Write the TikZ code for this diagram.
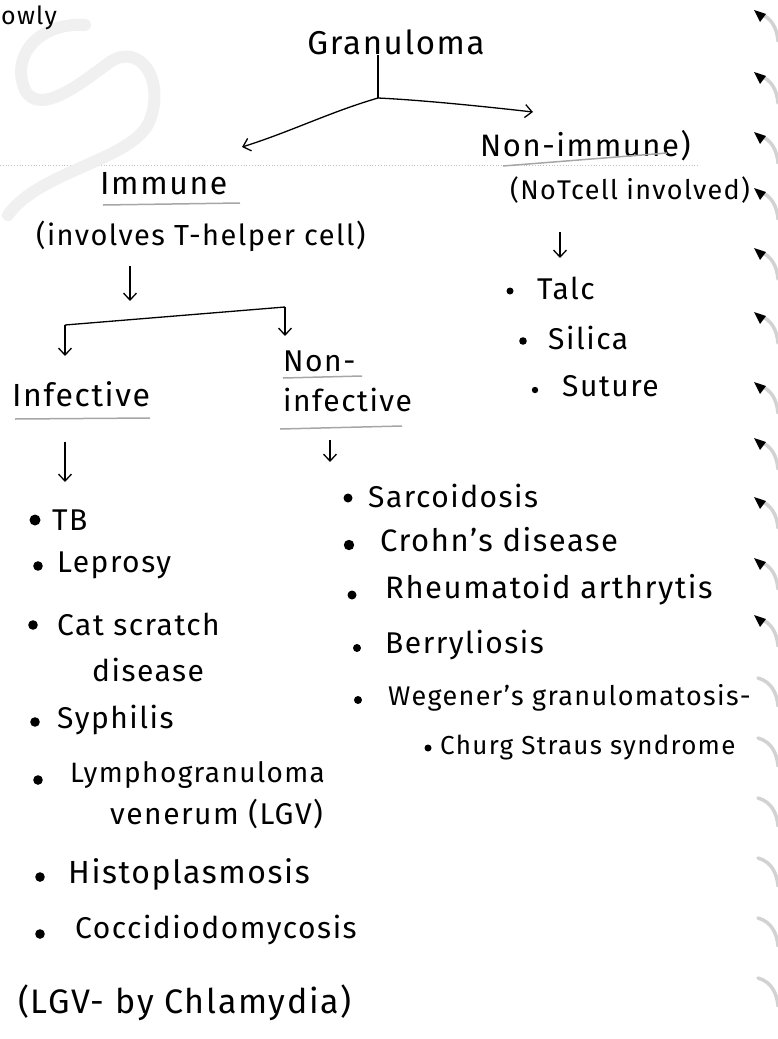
\documentclass[tikz,border=0pt]{standalone}
\usepackage{fontspec}
\setmainfont{Fira Sans}[LetterSpace=5]
\usetikzlibrary{arrows.meta}
\tikzset{
  hw/.style={inner sep=0pt, font=\fontsize{30}{32}\selectfont, text=black},
  hwl/.style={hw, anchor=west},
  arr/.style={line width=1.3pt, -{Straight Barb[length=7pt,width=13pt,line width=1.3pt]}},
  ln/.style={line width=1.3pt},
  uline/.style={gray!70, line width=1.5pt},
  ring/.style={gray!35, line width=3.5pt, line cap=round},
  bul/.style={fill=black},
}
\begin{document}
\begin{tikzpicture}[x=1pt,y=-1pt]
\useasboundingbox (0,0) rectangle (778,1039);
% faint ruled line and watermark
\draw[gray!50, dotted, line width=0.8pt] (0,165) -- (700,165);
\draw[gray!12, line width=12pt, line cap=round]
  (85,25) .. controls (40,22) and (10,55) .. (25,90)
  .. controls (40,118) and (85,80) .. (110,62)
  .. controls (140,42) and (165,80) .. (150,120)
  .. controls (135,160) and (40,170) .. (8,215);
% binder rings on the right edge
\foreach \y/\k in {25/1,87/1,147/1,203/1,263/1,327/1,397/1,453/1,512/1,573/1,630/1,690/0,750/0,810/0,870/0,930/0,990/0}{
  \draw[ring] (758,\y-12) .. controls (772,\y-8) and (777,\y+4) .. (778,\y+16);
  \ifnum\k=1 \fill (754,\y-15) -- (766,\y-11) -- (760,\y-3) -- cycle; \fi
}
% top-left fragment
\node[hwl, font=\fontsize{25}{27}\selectfont] (frag) at (1,18) {owly};
% root
\node[hw, font=\fontsize{33}{35}\selectfont] (gran) at (396,42) {Granuloma};
\coordinate (j) at (378,98);
\draw[ln] (gran.south -| j) -- (j);
% Immune branch
\node[hwl, font=\fontsize{32}{34}\selectfont] (imm) at (100,184) {Immune};
\node[hwl, font=\fontsize{29}{31}\selectfont] (inv) at (36,236) {(involves T-helper cell)};
\coordinate (immtip) at (242,147);
\draw[arr] (j) .. controls (330,112) and (290,132) .. (immtip);
\draw[uline] (103,205) -- (240,203);
% Non-immune branch
\node[hwl, font=\fontsize{31}{33}\selectfont] (nonimm) at (480,146) {Non-immune)};
\node[hwl, font=\fontsize{27}{29}\selectfont] (notcell) at (510,190) {(NoTcell involved)};
\coordinate (nitip) at (533,112);
\draw[arr] (j) .. controls (420,100) and (480,106) .. (nitip);
\draw[uline] (503,166) -- (667,153);
\coordinate (na1) at (560,232);
\coordinate (na2) at (560,258);
\draw[arr] (na1) -- (na2);
\fill[bul] (510,291) circle[radius=3.5pt];
\node[hwl] (talc) at (537,288) {Talc};
\fill[bul] (523,341) circle[radius=3.8pt];
\node[hwl] (silica) at (548,338) {Silica};
\fill[bul] (535,390) circle[radius=3.2pt];
\node[hwl] (suture) at (562,386) {Suture};
% split of immune
\coordinate (ia1) at (130,266);
\coordinate (ia2) at (130,301);
\draw[arr] (ia1) -- (ia2);
\coordinate (bl) at (65,325);
\coordinate (br) at (285,307);
\draw[ln] (bl) -- (br);
\coordinate (blt) at (65,356);
\coordinate (brt) at (285,336);
\draw[arr] (bl) -- (blt);
\draw[arr] (br) -- (brt);
% Infective
\node[hwl, font=\fontsize{32}{34}\selectfont] (inf) at (12,394) {Infective};
\draw[uline] (15,419) -- (150,418);
\node[hwl] (non) at (283,361) {Non-};
\node[hwl] (ninf) at (283,400) {infective};
\draw[uline] (283,378) -- (362,376);
\draw[uline] (280,429) -- (402,426);
\coordinate (ifa1) at (65,442);
\coordinate (ifa2) at (65,482);
\draw[arr] (ifa1) -- (ifa2);
\coordinate (nfa1) at (330,440);
\coordinate (nfa2) at (330,462);
\draw[arr] (nfa1) -- (nfa2);
% infective list
\fill[bul] (35,520) circle[radius=5.5pt];
\node[hwl] (tb) at (52,520) {TB};
\fill[bul] (38,566) circle[radius=4.8pt];
\node[hwl] (lep) at (57,565) {Leprosy};
\fill[bul] (33,625) circle[radius=4.8pt];
\node[hwl] (cat) at (57,624) {Cat scratch};
\node[hwl] (catd) at (92,670) {disease};
\fill[bul] (35,722) circle[radius=4.8pt];
\node[hwl] (syph) at (57,720) {Syphilis};
\fill[bul] (38,780) circle[radius=4.8pt];
\node[hwl, font=\fontsize{28}{30}\selectfont] (lymph) at (70,775) {Lymphogranuloma};
\node[hwl, font=\fontsize{30}{32}\selectfont] (vene) at (110,814) {venerum (LGV)};
\fill[bul] (40,877) circle[radius=4.8pt];
\node[hwl, font=\fontsize{32}{34}\selectfont] (histo) at (68,874) {Histoplasmosis};
\fill[bul] (40,934) circle[radius=4.8pt];
\node[hwl] (cocci) at (75,930) {Coccidiodomycosis};
\node[hwl, font=\fontsize{34}{36}\selectfont] (lgv) at (18,1003) {(LGV- by Chlamydia)};
% non-infective list
\fill[bul] (348,498) circle[radius=4.5pt];
\node[hwl] (sarc) at (368,496) {Sarcoidosis};
\fill[bul] (349,545) circle[radius=5.2pt];
\node[hwl, font=\fontsize{31}{33}\selectfont] (crohn) at (380,540) {Crohn's disease};
\fill[bul] (352,595) circle[radius=4.5pt];
\node[hwl, font=\fontsize{31}{33}\selectfont] (rheum) at (385,590) {Rheumatoid arthrytis};
\fill[bul] (357,648) circle[radius=4pt];
\node[hwl] (berry) at (385,645) {Berryliosis};
\fill[bul] (358,700) circle[radius=4pt];
\node[hwl, font=\fontsize{27}{29}\selectfont] (wege) at (388,698) {Wegener's granulomatosis-};
\fill[bul] (428,748) circle[radius=3.5pt];
\node[hwl, font=\fontsize{26}{28}\selectfont] (churg) at (440,748) {Churg Straus syndrome};
\end{tikzpicture}
\end{document}
